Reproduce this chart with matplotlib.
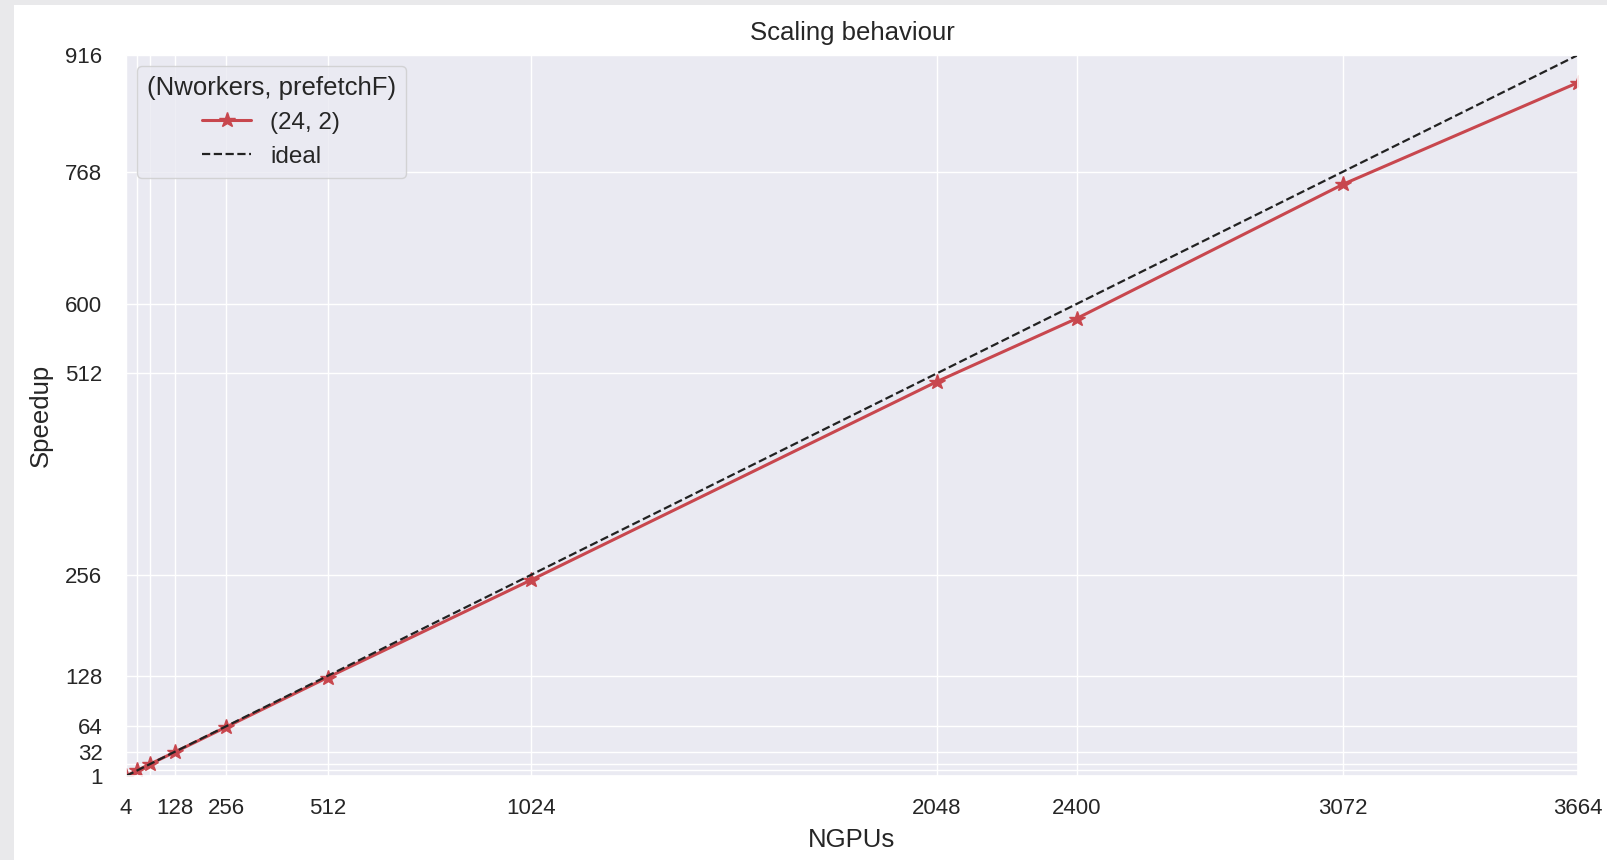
import numpy as np
import matplotlib
matplotlib.use("Agg")
import matplotlib.pyplot as plt
import seaborn as sns
from matplotlib.patches import Rectangle

# data
ngpus = [4, 32, 64, 128, 256, 512, 1024, 2048, 2400, 3072, 3664]
speedup = [1, 8, 16, 31.5, 63, 126, 249.5, 501.5, 581.5, 752, 881]
ideal = [n / 4 for n in ngpus]

# which ticks get a printed label (the crowded ones near the origin are left blank)
xlabel_shown = [4, 128, 256, 512, 1024, 2048, 2400, 3072, 3664]
ylabel_shown = [1, 32, 64, 128, 256, 512, 600, 768, 916]

sns.set_theme(style="darkgrid")
plt.rcParams['font.family'] = ['Liberation Sans', 'DejaVu Sans']

fig = plt.figure(figsize=(16.08, 8.6), dpi=100)
fig.patch.set_facecolor('#e9e9eb')
# white page, with the grey screenshot margin left/top
fig.patches.append(Rectangle((14 / 1608, 0), 1, 1 - 5 / 860, transform=fig.transFigure,
                             facecolor='white', edgecolor='none', zorder=-1))

ax = fig.add_axes([126 / 1608, 1 - 776 / 860, (1578 - 126) / 1608, (776 - 55) / 860])

ax.plot(ngpus, speedup, color='#c8474e', marker='*', markersize=11.5, linewidth=2.2,
        label='(24, 2)')
ax.plot(ngpus, ideal, color='#222222', linestyle='--', linewidth=1.6, label='ideal')

ax.set_xlim(ngpus[0], ngpus[-1])
ax.set_ylim(ideal[0], ideal[-1])

ax.set_xticks(ngpus)
ax.set_xticklabels([str(n) if n in xlabel_shown else '' for n in ngpus])
ax.set_yticks(ideal)
ax.set_yticklabels([str(int(v)) if int(v) in ylabel_shown else '' for v in ideal])
ax.tick_params(axis='x', labelsize=16, labelcolor='#262626', pad=16, length=0)
ax.tick_params(axis='y', labelsize=16, labelcolor='#262626', pad=17, length=0)

ax.set_xlabel('NGPUs', fontsize=18.5, color='#262626', labelpad=6)
ax.set_ylabel('Speedup', fontsize=18.5, color='#262626', labelpad=9)
ax.set_title('Scaling behaviour', fontsize=18.5, color='#262626', pad=11)

leg = ax.legend(title='(Nworkers, prefetchF)', loc='upper left', fontsize=17.5,
                title_fontsize=18.5, frameon=True, borderaxespad=0.45)

fig.savefig('out.png', dpi=100, facecolor=fig.get_facecolor())
